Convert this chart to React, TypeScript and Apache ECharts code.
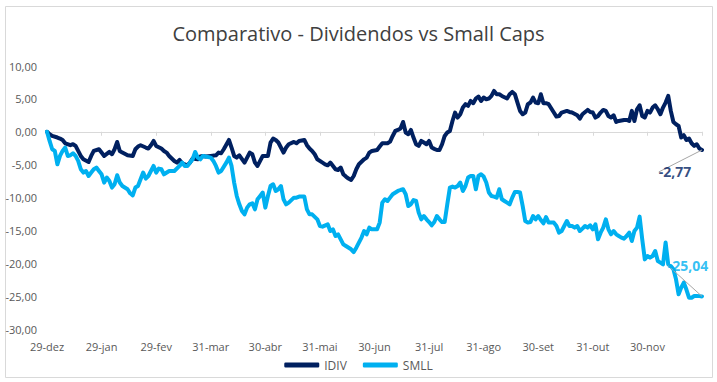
import React, { useEffect, useRef } from "react";
import * as echarts from "echarts";

const xTickLabels = ["29-dez", "29-jan", "29-fev", "31-mar", "30-abr", "31-mai", "30-jun", "31-jul", "31-ago", "30-set", "31-out", "30-nov"];

const idivDays = [0, 1, 2, 4, 5, 6, 7, 9, 10, 11, 13, 14, 16, 17, 18, 20, 21, 22, 24, 25, 26, 27, 28, 29, 31, 33, 34, 35, 36, 38, 39, 40, 41, 42, 44, 45, 46, 47, 49, 50, 51, 52, 54, 55, 56, 58, 59, 60, 61, 63, 65, 66, 67, 68, 70, 71, 72, 73, 74, 76, 77, 78, 79, 80, 81, 82, 83, 85, 86, 87, 88, 89, 90, 91, 92, 93, 95, 96, 97, 99, 100, 101, 102, 103, 104, 106, 107, 108, 109, 111, 112, 113, 114, 115, 116, 117, 118, 119, 120, 122, 123, 124, 125, 127, 128, 129, 131, 132, 133, 134, 135, 136, 137, 138, 139, 140, 141, 142, 143, 144, 145, 146, 147, 148, 149, 150, 151, 152, 153, 154, 155, 156, 157, 158, 159, 160, 161, 162, 163, 164, 165, 166, 167, 168, 169, 170, 171, 172, 173, 174, 175, 177, 178, 179, 180, 181, 182, 183, 184, 185, 186, 187, 188, 189, 190, 191, 192, 193, 195, 196, 197, 198, 200, 201, 202, 204, 205, 206, 208, 209, 210, 211, 212, 213, 214, 215, 216, 217, 218, 219, 220, 222, 223, 224, 225, 226, 227, 228, 229, 230, 231, 232, 233, 234, 235, 236, 237, 238, 239, 240, 241, 242, 243, 244, 245, 246, 247, 248, 249, 250, 251, 252];
const idivValues = [0, -0.38, -0.64, -0.88, -1.03, -1.25, -1.75, -2.05, -1.9, -2.16, -3.68, -4.19, -4.6, -3.68, -2.92, -2.66, -3.17, -3.68, -3.07, -3.42, -2.66, -1.55, -2.92, -3.17, -3.58, -3.68, -2.66, -2.25, -2.05, -2.4, -2.56, -2.05, -1.4, -2.16, -2.56, -2.92, -3.17, -3.68, -4.44, -4.69, -4.29, -4.79, -5.1, -4.69, -4.08, -4.19, -3.77, -3.68, -3.77, -3.68, -3.58, -3.17, -3.27, -2.66, -1.25, -2.4, -3.68, -3.93, -3.58, -4.69, -3.93, -3.17, -3.42, -4.69, -5.2, -4.44, -3.68, -3.68, -1.64, -1.04, -1.25, -1.64, -2.4, -3.17, -2.4, -1.9, -1.55, -1.75, -1.4, -1.25, -2.05, -2.56, -2.92, -3.42, -4.19, -4.69, -4.95, -5.1, -4.69, -5.71, -5.81, -5.45, -6.47, -6.82, -7.12, -7.33, -6.73, -5.71, -4.95, -4.19, -3.93, -3.17, -2.92, -2.77, -2.25, -1.75, -1.75, -1.5, -0.64, 0.12, 0.27, 0.49, 1.49, -0.12, -0.38, 0.27, -0.88, -1.9, -2.16, -1.4, -1.64, -1.9, -1.4, -2.4, -2.6, -2.77, -2.77, -1.9, -0.64, -0.12, 0.12, 1.64, 2.92, 2.16, 2.66, 3.68, 4.19, 3.93, 4.69, 4.34, 5.05, 5.36, 4.69, 5.2, 4.95, 5.05, 5.45, 6.21, 5.71, 5.71, 5.45, 5.05, 5.71, 6.06, 5.71, 4.44, 3.17, 2.66, 2.92, 4.19, 4.44, 5.2, 4.44, 4.34, 5.71, 4.34, 4.34, 4.19, 2.92, 2.31, 2.4, 2.92, 3.17, 3.01, 2.92, 2.51, 2.0, 2.66, 3.32, 3.01, 2.92, 2.16, 2.4, 2.92, 3.32, 3.17, 2.4, 2.16, 2.51, 1.49, 1.64, 1.8, 1.8, 1.64, 3.17, 1.64, 3.42, 4.03, 2.4, 2.16, 3.17, 2.92, 3.68, 4.03, 3.42, 2.66, 3.68, 4.44, 5.45, 3.17, 1.49, 1.14, 0.88, -0.88, -0.53, -1.25, -1.03, -1.75, -2.16, -1.9, -2.56, -2.77];

const smllDays = [0, 1, 2, 3, 4, 5, 6, 7, 8, 9, 10, 11, 12, 13, 14, 15, 16, 17, 18, 19, 20, 21, 22, 23, 24, 25, 26, 27, 28, 29, 31, 32, 33, 34, 35, 36, 37, 38, 39, 41, 42, 43, 44, 45, 47, 48, 49, 51, 52, 53, 54, 56, 57, 58, 59, 60, 61, 63, 64, 65, 66, 67, 69, 70, 71, 72, 73, 74, 75, 76, 77, 78, 79, 80, 81, 82, 83, 84, 85, 86, 87, 88, 89, 90, 91, 92, 93, 95, 96, 97, 99, 100, 101, 102, 104, 105, 106, 108, 109, 110, 111, 112, 113, 114, 115, 117, 118, 119, 120, 121, 122, 123, 124, 125, 127, 128, 129, 130, 131, 132, 133, 135, 136, 137, 138, 139, 140, 141, 142, 143, 144, 145, 146, 147, 148, 149, 150, 151, 152, 153, 154, 155, 156, 157, 158, 159, 160, 161, 162, 163, 164, 165, 166, 167, 168, 169, 170, 171, 172, 173, 174, 175, 176, 177, 178, 179, 180, 181, 182, 183, 184, 185, 186, 187, 188, 189, 190, 191, 192, 193, 194, 195, 196, 197, 198, 199, 200, 201, 202, 203, 204, 205, 206, 207, 208, 209, 210, 211, 212, 213, 214, 215, 216, 217, 218, 219, 220, 221, 222, 223, 224, 225, 226, 227, 228, 229, 230, 231, 232, 233, 234, 235, 236, 237, 238, 239, 240, 241, 242, 243, 244, 245, 246, 247, 248, 249, 250, 251, 252];
const smllValues = [0, -1.4, -2.66, -2.92, -4.95, -3.68, -2.92, -2.4, -3.68, -3.58, -3.27, -3.68, -4.44, -5.7, -6.21, -5.97, -6.73, -6.21, -5.7, -5.45, -5.97, -6.47, -7.73, -6.97, -7.49, -8.49, -7.99, -6.62, -7.73, -8.25, -8.75, -9.36, -9.67, -8.49, -8.25, -7.23, -6.21, -7.12, -6.73, -5.2, -6.21, -5.6, -5.7, -6.47, -5.97, -5.97, -5.97, -5.2, -4.69, -5.2, -5.2, -4.19, -3.07, -3.93, -4.19, -3.68, -3.77, -3.93, -4.44, -5.2, -6.21, -5.97, -4.69, -3.93, -5.2, -7.73, -9.77, -11.04, -12.05, -12.56, -11.54, -11.04, -10.88, -11.8, -10.27, -9.77, -9.25, -11.54, -9.77, -8.25, -7.99, -9.01, -8.75, -8.25, -10.27, -11.04, -10.78, -10.02, -10.02, -9.86, -9.86, -11.8, -12.56, -12.56, -13.32, -14.34, -14.43, -14.08, -15.1, -14.84, -15.86, -15.6, -16.36, -17.12, -17.38, -17.88, -18.3, -17.63, -16.86, -16.1, -15.1, -15.6, -14.58, -14.84, -14.84, -13.82, -10.78, -10.27, -10.53, -10.02, -9.51, -9.01, -8.86, -8.75, -9.51, -11.29, -11.04, -10.38, -10.53, -12.3, -13.32, -12.82, -13.32, -13.73, -14.23, -13.73, -12.82, -13.32, -13.73, -13.73, -11.04, -8.49, -8.34, -8.49, -8.25, -7.73, -9.01, -8.25, -6.97, -6.73, -6.73, -8.75, -6.73, -6.47, -6.82, -7.73, -9.25, -9.77, -9.86, -10.02, -8.75, -10.27, -10.53, -10.78, -11.04, -10.02, -9.16, -9.16, -9.25, -11.29, -13.58, -13.82, -13.73, -12.82, -13.32, -12.82, -13.42, -13.93, -12.97, -13.82, -13.82, -13.82, -14.34, -15.35, -15.1, -14.34, -13.58, -14.34, -14.34, -14.58, -14.34, -15.1, -14.73, -14.34, -14.58, -14.23, -14.84, -14.08, -16.36, -15.35, -14.58, -13.32, -14.84, -15.6, -15.1, -15.6, -15.86, -16.1, -16.26, -15.86, -15.35, -16.62, -15.1, -14.58, -12.91, -16.36, -19.41, -18.9, -19.15, -18.9, -18.14, -19.67, -19.91, -20.17, -16.86, -20.17, -20.43, -20.93, -22.45, -24.73, -23.71, -22.95, -24.0, -25.24, -25.24, -24.99, -24.99, -25.0, -25.04];

const yTicks = { min: -30, max: 10, step: 5 };
const dayStep = 21;
const dayMax = 252;

const NAVY = "#002060";
const CYAN = "#00B0F0";
const FONT = "'Open Sans', 'Noto Sans', sans-serif";

const fmt = (v: number) => v.toFixed(2).replace(".", ",");

export default function App() {
  const ref = useRef<HTMLDivElement>(null);
  useEffect(() => {
    if (!ref.current) return;
    const chart = echarts.init(ref.current, null, { renderer: "svg" });
    const idivData = idivDays.map((d, i) => [d, idivValues[i]]);
    const smllData = smllDays.map((d, i) => [d, smllValues[i]]);
    const idivLast = idivData[idivData.length - 1];
    const smllLast = smllData[smllData.length - 1];

    chart.setOption({
      animation: false,
      backgroundColor: "#ffffff",
      textStyle: { fontFamily: FONT },
      title: {
        text: "Comparativo - Dividendos vs Small Caps",
        left: "center",
        top: 18,
        textStyle: { fontFamily: FONT, fontSize: 20, fontWeight: "normal", color: "#404040" },
      },
      graphic: [
        {
          type: "rect",
          shape: { x: 5.5, y: 6.5, width: 707, height: 371 },
          style: { fill: "none", stroke: "#D9D9D9", lineWidth: 1 },
          silent: true,
          z: -1,
        },
      ],
      legend: {
        data: ["IDIV", "SMLL"],
        left: "center",
        top: 354,
        icon: "roundRect",
        itemWidth: 35,
        itemHeight: 5,
        itemGap: 16,
        textStyle: { fontFamily: FONT, fontSize: 12, color: "#595959" },
      },
      grid: { left: 47, right: 15, top: 66, bottom: 53, containLabel: false },
      xAxis: [
        {
          type: "value",
          min: 0,
          max: dayMax,
          interval: dayStep,
          axisLine: { onZero: true, lineStyle: { color: "#D9D9D9", width: 1 } },
          axisTick: { show: true, length: 4, lineStyle: { color: "#D9D9D9" } },
          axisLabel: { show: false },
          splitLine: { show: false },
        },
        {
          type: "value",
          min: 0,
          max: dayMax,
          interval: dayStep,
          position: "bottom",
          axisLine: { show: false, onZero: false },
          axisTick: { show: false },
          splitLine: { show: false },
          axisLabel: {
            margin: 12,
            color: "#595959",
            fontSize: 11,
            fontFamily: FONT,
            formatter: (v: number) => xTickLabels[Math.round(v / dayStep)] ?? "",
          },
        },
      ],
      yAxis: {
        type: "value",
        min: yTicks.min,
        max: yTicks.max,
        interval: yTicks.step,
        axisLine: { show: false },
        axisTick: { show: false },
        splitLine: { show: false },
        axisLabel: { margin: 10, color: "#595959", fontSize: 11, fontFamily: FONT, formatter: fmt },
      },
      series: [
        {
          name: "IDIV",
          type: "line",
          xAxisIndex: 0,
          data: idivData,
          showSymbol: false,
          lineStyle: { color: NAVY, width: 4, cap: "round", join: "round" },
          itemStyle: { color: NAVY },
          z: 2,
        },
        {
          name: "SMLL",
          type: "line",
          xAxisIndex: 0,
          data: smllData,
          showSymbol: false,
          lineStyle: { color: CYAN, width: 4, cap: "round", join: "round" },
          itemStyle: { color: CYAN },
          z: 3,
        },
        {
          name: "idivEnd",
          type: "scatter",
          xAxisIndex: 0,
          data: [idivLast],
          symbolSize: 0,
          z: 10,
          label: {
            show: true,
            position: "inside",
            formatter: (p: any) => fmt(p.value[1]),
            color: NAVY,
            fontWeight: "bold",
            fontSize: 14,
            fontFamily: FONT,
          },
          labelLine: { show: true, lineStyle: { color: "#A6A6A6", width: 1 } },
          labelLayout: { dx: -27, dy: 22 },
        },
        {
          name: "smllEnd",
          type: "scatter",
          xAxisIndex: 0,
          data: [smllLast],
          symbolSize: 0,
          z: 10,
          label: {
            show: true,
            position: "inside",
            formatter: (p: any) => fmt(p.value[1]),
            color: CYAN,
            fontWeight: "bold",
            fontSize: 14,
            fontFamily: FONT,
          },
          labelLine: { show: true, lineStyle: { color: "#A6A6A6", width: 1 } },
          labelLayout: { dx: -14, dy: -31 },
        },
      ],
    });
    return () => chart.dispose();
  }, []);

  return (
    <div
      ref={ref}
      style={{ position: "fixed", left: 0, top: 0, width: 717, height: 382, background: "#fff" }}
    />
  );
}
